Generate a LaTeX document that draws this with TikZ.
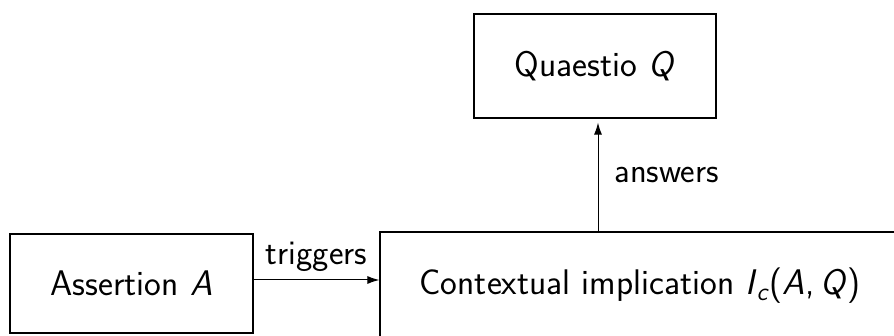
\documentclass[tikz,border=0pt]{standalone}
\usetikzlibrary{arrows.meta}
\begin{document}
\begin{tikzpicture}[x=0.5pt,y=-0.5pt,
  box/.style={draw,line width=0.6pt,rectangle,inner sep=0pt,
    font=\sffamily\fontsize{17.8}{21}\selectfont},
  edgelabel/.style={font=\sffamily\fontsize{17.3}{20}\selectfont,inner sep=0pt},
  arr/.style={line width=0.5pt,-{Latex[length=6pt,width=4pt]}}]
\clip (0,0) rectangle (894,336);
\node[box,minimum width=121pt,minimum height=52pt] (q) at (595,66)
  {Quaestio \textit{Q}};
\node[box,minimum width=121.5pt,minimum height=49.5pt] (a) at (131.5,283.5)
  {Assertion \textit{A}};
\node[box,minimum width=260pt,minimum height=54pt] (c) at (640,286)
  {Contextual implication \textit{I}\textsubscript{\textit{c}}(\textit{A},\,\textit{Q})};
\coordinate (ty) at (0,280);
\coordinate (ux) at (598,0);
\draw[arr] (a.east |- ty) -- (c.west |- ty)
  node[edgelabel,midway,above=4pt] {triggers};
\draw[arr,shorten >=2pt] (c.north -| ux) -- (q.south -| ux)
  node[edgelabel,midway,right=8pt] {answers};
\end{tikzpicture}
\end{document}
